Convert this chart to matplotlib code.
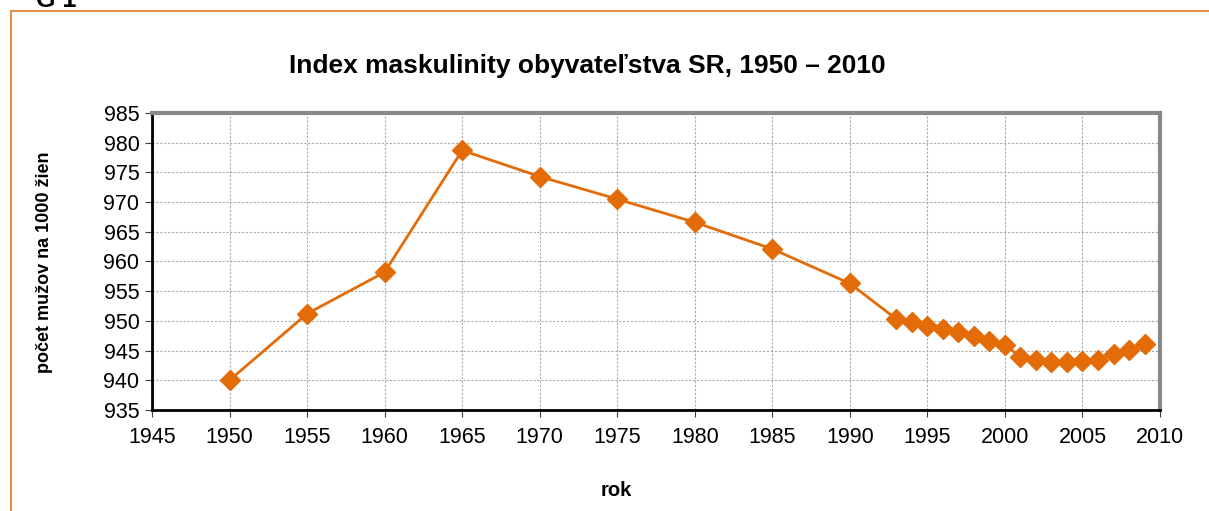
import matplotlib.pyplot as plt
from matplotlib.lines import Line2D

plt.rcParams['font.family'] = ['Liberation Sans', 'DejaVu Sans']

years = [1950, 1955, 1960, 1965, 1970, 1975, 1980, 1985, 1990,
         1993, 1994, 1995, 1996, 1997, 1998, 1999, 2000, 2001,
         2002, 2003, 2004, 2005, 2006, 2007, 2008, 2009]
index_m = [940.0, 951.2, 958.2, 978.7, 974.3, 970.5, 966.6, 962.1, 956.3,
           950.3, 949.8, 949.2, 948.6, 948.2, 947.4, 946.6, 945.9, 944.0,
           943.4, 943.1, 943.1, 943.3, 943.4, 944.4, 945.1, 946.1]
x_ticks = list(range(1945, 2011, 5))
y_ticks = list(range(935, 986, 5))

orange = '#E36C09'

fig = plt.figure(figsize=(12.09, 5.11), dpi=100)
ax = fig.add_axes([0.1257, 0.1977, 0.8338, 0.5812])

ax.plot(years, index_m, color=orange, lw=2, marker='D', markersize=10,
        markerfacecolor=orange, markeredgecolor=orange)

ax.set_xlim(1945, 2010)
ax.set_ylim(935, 985)
ax.set_xticks(x_ticks)
ax.set_yticks(y_ticks)
ax.tick_params(labelsize=15.5, direction='out', length=5, color='#404040',
               pad=4)
ax.tick_params(axis='x', pad=7)
ax.grid(True, color='#aaaaaa', linestyle=(0, (2, 1.5)), lw=0.8)
ax.set_axisbelow(True)

ax.spines['left'].set_color('black')
ax.spines['bottom'].set_color('black')
ax.spines['left'].set_linewidth(2)
ax.spines['bottom'].set_linewidth(2)
ax.spines['top'].set_color('#888888')
ax.spines['right'].set_color('#888888')
ax.spines['top'].set_linewidth(3)
ax.spines['right'].set_linewidth(3)

fig.text(0.4855, 0.871, 'Index maskulinity obyvateľstva SR, 1950 – 2010',
         ha='center', va='center', fontsize=19, fontweight='bold')
fig.text(0.0364, 0.487, 'počet mužov na 1000 žien', rotation=90,
         ha='center', va='center', fontsize=13, fontweight='bold')
fig.text(0.5095, 0.041, 'rok', ha='center', va='center',
         fontsize=14.5, fontweight='bold')
fig.text(0.03, 1.0, 'G 1', ha='left', va='center', fontsize=18,
         fontweight='bold')

# frame lines of the surrounding box
frame = '#E8904A'
fig.add_artist(Line2D([0.0091, 1.0], [0.9785, 0.9785], color=frame, lw=1.5,
                      transform=fig.transFigure))
fig.add_artist(Line2D([0.0091, 0.0091], [0.0, 0.9785], color=frame, lw=1.5,
                      transform=fig.transFigure))

fig.savefig('out.png', dpi=100)
